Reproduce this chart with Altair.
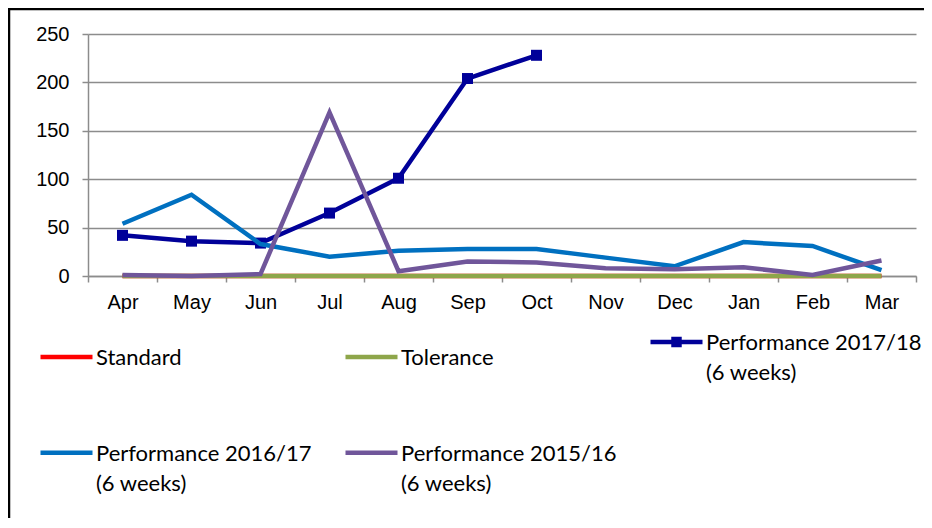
import altair as alt
import pandas as pd

months = ["Apr", "May", "Jun", "Jul", "Aug", "Sep", "Oct", "Nov", "Dec", "Jan", "Feb", "Mar"]
standard = [0, 0, 0, 0, 0, 0, 0, 0, 0, 0, 0, 0]
tolerance = [0, 0, 0, 0, 0, 0, 0, 0, 0, 0, 0, 0]
perf_1718 = [42, 36, 34, 65, 101, 204, 228, None, None, None, None, None]
perf_1617 = [54, 84, 33, 20, 26, 28, 28, 19, 10, 35, 31, 6]
perf_1516 = [1, 0, 2, 169, 5, 15, 14, 8, 7, 9, 1, 16]

series_names = [
    "Standard",
    "Tolerance",
    "Performance 2017/18|(6 weeks)",
    "Performance 2016/17|(6 weeks)",
    "Performance 2015/16|(6 weeks)",
]
series_values = [standard, tolerance, perf_1718, perf_1617, perf_1516]
series_colors = ["#FF0000", "#8EA64A", "#000099", "#0070C0", "#70569A"]

rows = []
for name, vals in zip(series_names, series_values):
    for m, v in zip(months, vals):
        if v is not None:
            rows.append({"month": m, "value": v, "series": name})
df = pd.DataFrame(rows)

line_path = "M-1,-0.3H1"
square_path = "M-1,-0.3H1M-0.115,-0.415H0.115V-0.185H-0.115ZM-0.04,-0.34H0.04V-0.26H-0.04Z"
series_shapes = [line_path, line_path, square_path, line_path, line_path]

color_scale = alt.Scale(domain=series_names, range=series_colors)
shape_scale = alt.Scale(domain=series_names, range=series_shapes)

legend = alt.Legend(
    title=None,
    orient="none",
    legendX=-50,
    legendY=287,
    direction="horizontal",
    columns=3,
    gridAlign="all",
    columnPadding=24,
    rowPadding=48,
    symbolSize=2704,
    symbolStrokeWidth=4.5,
    labelFont="Lato",
    labelFontSize=22,
    labelColor="#000000",
    labelLimit=400,
    labelOffset=1,
    labelBaseline="alphabetic",
    labelExpr="split(datum.label, '|')",
)

x_enc = alt.X(
    "month:N",
    sort=months,
    bandPosition=0.5,
    scale=alt.Scale(type="band", paddingInner=0, paddingOuter=0),
    axis=alt.Axis(
        title=None,
        labelAngle=0,
        labelFont="Liberation Sans",
        labelFontSize=20,
        labelColor="#000000",
        labelPadding=10,
        tickBand="extent",
        tickSize=6,
        tickColor="#8c8c8c",
        tickWidth=1.5,
        domainColor="#8c8c8c",
        domainWidth=1.5,
        grid=False,
    ),
)
y_enc = alt.Y(
    "value:Q",
    scale=alt.Scale(domain=[0, 250], nice=False),
    axis=alt.Axis(
        title=None,
        values=[0, 50, 100, 150, 200, 250],
        labelFont="Liberation Sans",
        labelFontSize=20,
        labelColor="#000000",
        labelPadding=13,
        tickSize=6,
        tickColor="#8c8c8c",
        tickWidth=1.5,
        domainColor="#8c8c8c",
        domainWidth=1.5,
        gridColor="#8c8c8c",
        gridWidth=1.5,
    ),
)

frame = alt.Chart(pd.DataFrame({"a": [0]})).mark_rect(
    fill=None, stroke="#000000", strokeWidth=2.5, clip=False
).encode(
    x=alt.value(-79), y=alt.value(-25), x2=alt.value(3000), y2=alt.value(3000)
)

layers = [frame]

# legend-only layer (draws nothing, carries the shape scale for the legend)
legend_layer = alt.Chart(df).transform_filter("false").mark_point(
    filled=False, strokeWidth=4.5, opacity=1
).encode(
    x=x_enc,
    y=y_enc,
    color=alt.Color("series:N", scale=color_scale, legend=legend),
    shape=alt.Shape("series:N", scale=shape_scale, legend=legend),
)
layers.append(legend_layer)

for name in series_names:
    base = alt.Chart(df).transform_filter(alt.datum.series == name)
    line = base.mark_line(strokeWidth=4.5, strokeJoin="miter").encode(
        x=x_enc,
        y=y_enc,
        color=alt.Color("series:N", scale=color_scale, legend=legend),
    )
    layers.append(line)
    if "2017" in name:
        pts = base.mark_square(size=121, opacity=1, filled=True).encode(
            x=x_enc, y=y_enc,
            color=alt.Color("series:N", scale=color_scale, legend=legend),
        )
        layers.append(pts)

chart = alt.layer(*layers).properties(
    width=828,
    height=242,
    padding={"left": 80, "top": 26, "right": 8, "bottom": 242},
    autosize=alt.AutoSizeParams(type="none"),
).configure(
    style={"guide-label": {"lineHeight": 30}}
).configure_view(stroke=None).configure_axis(labelFlush=False)

chart.save("out.html", embed_options={"renderer": "svg", "actions": False})
